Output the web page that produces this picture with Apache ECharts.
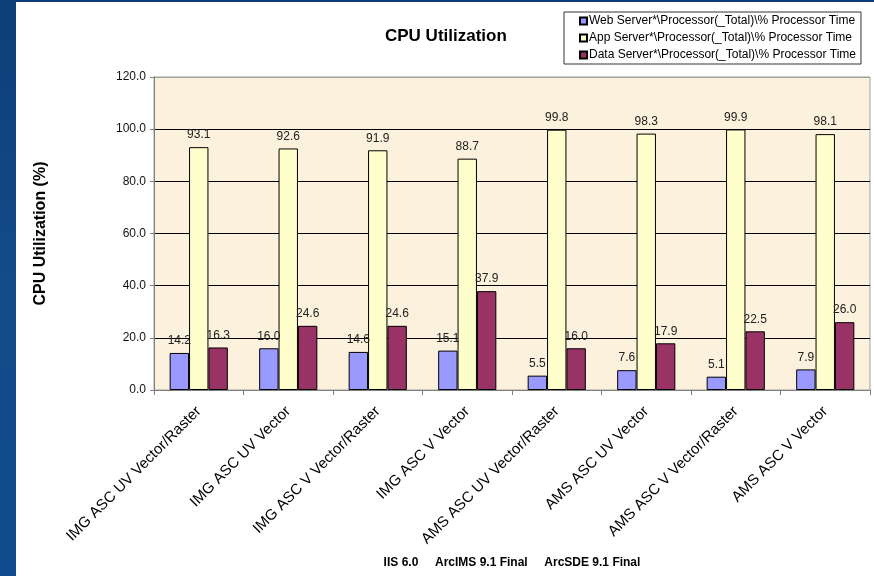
<!DOCTYPE html>
<html>
<head>
<meta charset="utf-8">
<script src="https://cdn.jsdelivr.net/npm/echarts@6/dist/echarts.min.js"></script>
<style>
  html, body { margin: 0; padding: 0; background: #ffffff; }
  #chart { width: 874px; height: 576px; }
</style>
</head>
<body>
<div id="chart"></div>
<script>
// Test scenarios on the category axis
const categories = [
  'IMG ASC UV Vector/Raster',
  'IMG ASC UV Vector',
  'IMG ASC V Vector/Raster',
  'IMG ASC V Vector',
  'AMS ASC UV Vector/Raster',
  'AMS ASC UV Vector',
  'AMS ASC V Vector/Raster',
  'AMS ASC V Vector'
];

// Processor time per server tier (%)
const webServer  = [14.2, 16.0, 14.6, 15.1, 5.5, 7.6, 5.1, 7.9];
const appServer  = [93.1, 92.6, 91.9, 88.7, 99.8, 98.3, 99.9, 98.1];
const dataServer = [16.3, 24.6, 24.6, 37.9, 16.0, 17.9, 22.5, 26.0];

const seriesNames = [
  'Web Server*\\Processor(_Total)\\% Processor Time',
  'App Server*\\Processor(_Total)\\% Processor Time',
  'Data Server*\\Processor(_Total)\\% Processor Time'
];
const seriesColors = ['#9999ff', '#ffffcc', '#993366'];

const yTicks = [0, 20, 40, 60, 80, 100, 120];

const FONT = 'Arial, "Liberation Sans", sans-serif';

const chart = echarts.init(document.getElementById('chart'), null, { renderer: 'canvas' });

function barSeries(name, data, color) {
  return {
    name: name,
    type: 'bar',
    data: data,
    barGap: '0%',
    barCategoryGap: '35%',
    itemStyle: { color: color, borderColor: '#000000', borderWidth: 1 },
    label: {
      show: true,
      position: 'top',
      distance: 6,
      color: '#222222',
      fontFamily: FONT,
      fontSize: 12,
      formatter: p => p.value.toFixed(1)
    },
    emphasis: { disabled: true }
  };
}

chart.setOption({
  backgroundColor: '#ffffff',
  animation: false,
  graphic: [
    {
      type: 'rect',
      shape: { x: 0, y: 0, width: 16, height: 576 },
      style: {
        fill: new echarts.graphic.LinearGradient(0, 0, 0, 1, [
          { offset: 0, color: '#0d3e76' },
          { offset: 0.5, color: '#134c8a' },
          { offset: 1, color: '#0f4a8c' }
        ])
      },
      silent: true
    },
    {
      type: 'rect',
      shape: { x: 0, y: 0, width: 874, height: 2 },
      style: { fill: '#0d3e76' },
      silent: true
    }
  ],
  title: {
    text: 'CPU Utilization',
    left: 380,
    top: 23,
    textStyle: { fontFamily: FONT, fontSize: 17, fontWeight: 'bold', color: '#000000' }
  },
  legend: {
    orient: 'vertical',
    left: 564,
    top: 12,
    data: seriesNames,
    icon: 'rect',
    itemWidth: 7,
    itemHeight: 7,
    itemGap: 5,
    padding: [3, 5, 3, 15],
    borderColor: '#333333',
    borderWidth: 1,
    selectedMode: false,
    textStyle: { fontFamily: FONT, fontSize: 12, color: '#000000', padding: [0, 0, 0, -3] }
  },
  grid: {
    left: 154,
    right: 4,
    top: 77,
    bottom: 186,
    show: true,
    backgroundColor: '#fbf1dc',
    borderColor: '#a0a0a0',
    borderWidth: 1
  },
  xAxis: {
    type: 'category',
    data: categories,
    name: 'IIS 6.0     ArcIMS 9.1 Final     ArcSDE 9.1 Final',
    nameLocation: 'middle',
    nameGap: 167,
    nameTextStyle: { fontFamily: FONT, fontSize: 12, fontWeight: 'bold', color: '#000000' },
    axisLine: { show: true, lineStyle: { color: '#808080', width: 1 } },
    axisTick: { show: true, alignWithLabel: false, length: 5, lineStyle: { color: '#808080' } },
    axisLabel: {
      interval: 0,
      rotate: 45,
      margin: 19,
      fontFamily: FONT,
      fontSize: 15,
      color: '#000000'
    },
    splitLine: { show: false }
  },
  yAxis: {
    type: 'value',
    min: yTicks[0],
    max: yTicks[yTicks.length - 1],
    interval: 20,
    name: 'CPU Utilization (%)',
    nameLocation: 'middle',
    nameRotate: 90,
    nameGap: 105,
    nameTextStyle: { fontFamily: FONT, fontSize: 16, fontWeight: 'bold', color: '#000000' },
    axisLine: { show: true, lineStyle: { color: '#808080', width: 1 } },
    axisTick: { show: true, length: 4, lineStyle: { color: '#808080' } },
    axisLabel: {
      margin: 8,
      fontFamily: FONT,
      fontSize: 12,
      color: '#111111',
      formatter: v => v.toFixed(1)
    },
    splitLine: {
      show: true,
      lineStyle: { color: ['#808080', '#000000', '#000000', '#000000', '#000000', '#000000', '#a0a0a0'], width: 1 }
    }
  },
  series: [
    barSeries(seriesNames[0], webServer, seriesColors[0]),
    barSeries(seriesNames[1], appServer, seriesColors[1]),
    barSeries(seriesNames[2], dataServer, seriesColors[2])
  ]
});
</script>
</body>
</html>
